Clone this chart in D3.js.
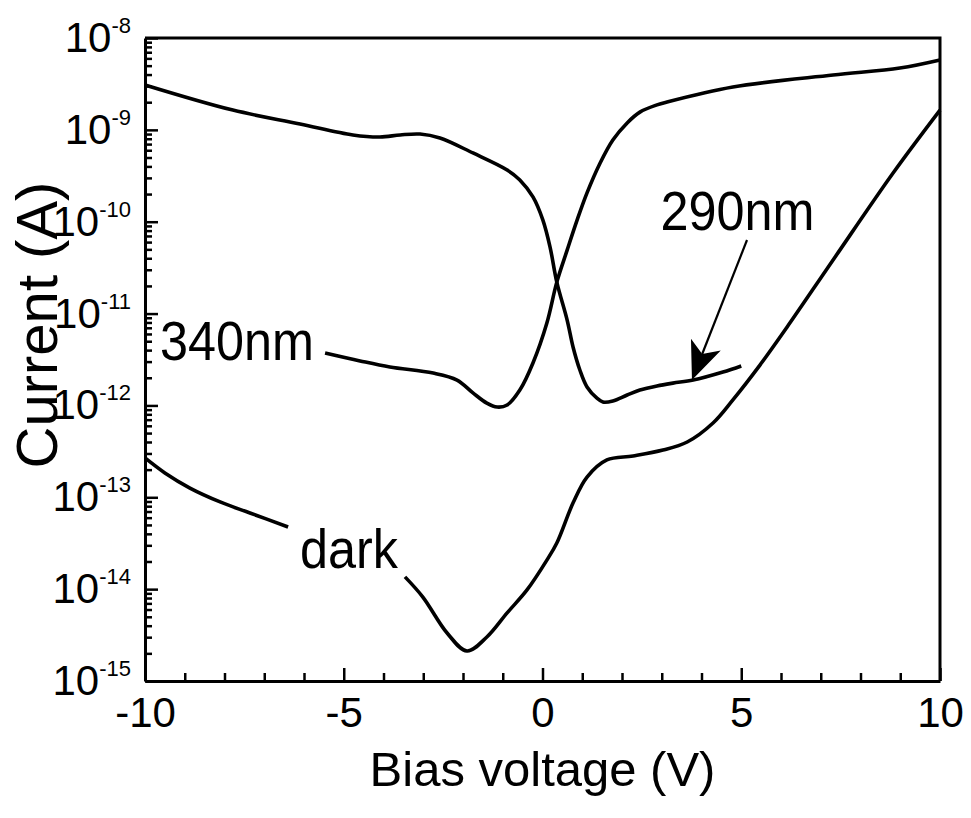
<!DOCTYPE html>
<html>
<head>
<meta charset="utf-8">
<script src="https://cdn.jsdelivr.net/npm/d3@7"></script>
<style>
  body { margin: 0; background: #fff; }
  svg { display: block; font-family: "Liberation Sans", Arial, sans-serif; }
</style>
</head>
<body>
<div id="chart"></div>
<script>
// I-V curves: dark current and photocurrent under 290nm / 340nm light
// values (volts, amps)

const voltage290 = [-10, -7.79, -6.10, -4.77, -4.09, -3.58, -3.08, -2.58,
  -1.75, -0.89, -0.57, -0.24, 0.01, 0.19, 0.36, 0.62, 0.77, 0.94, 1.12, 1.37, 1.52, 1.77,
  2.13, 2.45, 2.88, 3.28, 3.79, 4.54, 5.0];
const current290 = [3.08e-9, 1.64e-9, 1.16e-9, 8.8e-10, 8.35e-10,
  8.8e-10, 9.0e-10, 8.15e-10, 5.6e-10, 3.66e-10, 2.85e-10, 1.86e-10, 1.04e-10, 5.3e-11,
  2.2e-11, 8.5e-12, 4.3e-12, 2.43e-12, 1.59e-12, 1.2e-12, 1.09e-12, 1.12e-12, 1.3e-12,
  1.47e-12, 1.63e-12, 1.75e-12, 1.89e-12, 2.31e-12, 2.69e-12];

const voltage340 = [-5.47, -4.59, -3.84, -2.75, -2.15, -1.75, -1.40, -1.14, -0.89, -0.57,
  -0.24, 0.11, 0.36, 0.62, 0.87, 1.12, 1.45, 1.77, 2.13, 2.45, 2.88, 3.13, 4.79, 7.31, 8.99, 10];
const current340 = [3.72e-12, 3.05e-12, 2.62e-12, 2.25e-12, 1.89e-12, 1.37e-12, 1.06e-12,
  9.6e-13, 1.01e-12, 1.47e-12, 2.9e-12, 7.9e-12, 2.2e-11, 4.9e-11, 1.04e-10, 2.06e-10,
  4.36e-10, 7.76e-10, 1.19e-9, 1.56e-9, 1.87e-9, 2.01e-9, 2.93e-9, 3.95e-9, 4.71e-9, 5.77e-9];

// null marks the break in the dark curve where its label sits
const voltageDark = [-10, -9.50, -8.87, -8.11, -7.36, -6.40, null, -3.46, -3.01, -2.40, -1.90,
  -1.40, -0.89, -0.39, 0.11, 0.36, 0.77, 1.12, 1.62, 2.28, 3.03, 3.64, 4.29, 4.79, 5.47,
  6.15, 7.31, 8.82, 10];
const currentDark = [2.68e-13, 1.84e-13, 1.26e-13, 8.9e-14, 6.75e-14, 4.75e-14, null, 1.36e-14,
  8.2e-15, 3.33e-15, 2.12e-15, 3.01e-15, 5.51e-15, 9.8e-15, 2.07e-14, 3.18e-14, 8.7e-14,
  1.66e-13, 2.55e-13, 2.82e-13, 3.27e-13, 4.0e-13, 6.44e-13, 1.15e-12, 2.75e-12, 7.1e-12,
  3.83e-11, 3.39e-10, 1.64e-9];

// curve labels and the 290nm arrow (data units)
const labelText = ["340nm", "290nm", "dark"];
const labelV    = [-9.62, 2.97, -6.10];
const labelI    = [3.13e-12, 8.13e-11, 1.70e-14];
const arrowFrom = [5.145, 6.32e-11];
const arrowTo   = [3.76, 1.89e-12];

const xTicks = [-10, -5, 0, 5, 10];
const yDecades = [1e-15, 1e-14, 1e-13, 1e-12, 1e-11, 1e-10, 1e-9, 1e-8];

const width = 971, height = 818;
const margin = { top: 38, right: 31, bottom: 137, left: 145 };
const FONT = '"Liberation Sans", Arial, sans-serif';

const svg = d3.select("#chart").append("svg")
  .attr("width", width)
  .attr("height", height);

const x = d3.scaleLinear().domain([-10, 10]).range([margin.left, width - margin.right]);
const y = d3.scaleLog().domain([1e-15, 1e-8]).range([height - margin.bottom, margin.top]);

// minor ticks: 1 V steps, 2..9 within each decade
const xMinor = d3.range(-10, 11, 1).filter(d => d % 5 !== 0);
const yMinor = [];
yDecades.slice(0, -1).forEach(dec => {
  for (let k = 2; k <= 9; k++) yMinor.push(dec * k);
});

function styleAxis(g, fontSize) {
  g.attr("font-family", FONT).attr("font-size", fontSize);
  g.select(".domain").attr("stroke-width", 3);
  g.selectAll(".tick line").attr("stroke-width", 2.5);
  g.selectAll(".tick text").attr("fill", "#000");
}

// X axis
svg.append("g")
  .attr("transform", `translate(0,${height - margin.bottom})`)
  .call(d3.axisBottom(x).tickValues(xMinor).tickSize(-8).tickSizeOuter(0).tickFormat(""))
  .call(g => { styleAxis(g, 42); g.select(".domain").remove(); });

svg.append("g")
  .attr("transform", `translate(0,${height - margin.bottom})`)
  .call(d3.axisBottom(x).tickValues(xTicks).tickSize(-13).tickSizeOuter(0)
    .tickPadding(16).tickFormat(d => String(d)))
  .call(g => styleAxis(g, 42));

// Y axis
svg.append("g")
  .attr("transform", `translate(${margin.left},0)`)
  .call(d3.axisLeft(y).tickValues(yMinor).tickSize(-7).tickSizeOuter(0).tickFormat(""))
  .call(g => { styleAxis(g, 42); g.select(".domain").remove(); });

svg.append("g")
  .attr("transform", `translate(${margin.left},0)`)
  .call(d3.axisLeft(y).tickValues(yDecades).tickSize(-13).tickSizeOuter(0)
    .tickPadding(14).tickFormat(""))
  .call(g => styleAxis(g, 42))
  .call(g => g.selectAll(".tick text").each(function(d) {
    const t = d3.select(this);
    t.append("tspan").text("10");
    t.append("tspan").attr("dy", -19).attr("font-size", 22)
      .text(String(Math.round(Math.log10(d))));
  }));

// top and right frame
svg.append("path")
  .attr("d", `M${x(-10)},${y(1e-8)}H${x(10)}V${y(1e-15)}`)
  .attr("fill", "none")
  .attr("stroke", "#000")
  .attr("stroke-width", 3);

// curves
const line = d3.line()
  .defined(d => d[0] !== null)
  .x(d => x(d[0]))
  .y(d => y(d[1]))
  .curve(d3.curveCatmullRom.alpha(0.5));

const series = [
  d3.zip(voltage290, current290),
  d3.zip(voltage340, current340),
  d3.zip(voltageDark, currentDark)
];

svg.selectAll(".curve")
  .data(series)
  .join("path")
  .attr("class", "curve")
  .attr("d", line)
  .attr("fill", "none")
  .attr("stroke", "#000")
  .attr("stroke-width", 3.6)
  .attr("stroke-linejoin", "round");

// curve labels, slightly condensed like the original lettering
labelText.forEach((txt, i) => {
  svg.append("text")
    .attr("transform", `translate(${x(labelV[i])},${y(labelI[i])}) scale(0.915,1)`)
    .attr("font-family", FONT)
    .attr("font-size", 55)
    .attr("fill", "#000")
    .text(txt);
});

// arrow to the 290nm curve
const ax0 = x(arrowFrom[0]), ay0 = y(arrowFrom[1]);
const ax1 = x(arrowTo[0]),   ay1 = y(arrowTo[1]);
const len = Math.hypot(ax0 - ax1, ay0 - ay1);
const ux = (ax0 - ax1) / len, uy = (ay0 - ay1) / len;   // tip -> tail
const px = -uy, py = ux;
const headLen = 38, headHalf = 16, notch = 28;

svg.append("line")
  .attr("x1", ax0).attr("y1", ay0)
  .attr("x2", ax1 + ux * notch).attr("y2", ay1 + uy * notch)
  .attr("stroke", "#000")
  .attr("stroke-width", 2.2);

svg.append("path")
  .attr("d", `M${ax1},${ay1}` +
    `L${ax1 + ux * headLen + px * headHalf},${ay1 + uy * headLen + py * headHalf}` +
    `L${ax1 + ux * notch},${ay1 + uy * notch}` +
    `L${ax1 + ux * headLen - px * headHalf},${ay1 + uy * headLen - py * headHalf}Z`)
  .attr("fill", "#000");

// axis titles
svg.append("text")
  .attr("x", (x(-10) + x(10)) / 2)
  .attr("y", 786)
  .attr("text-anchor", "middle")
  .attr("font-family", FONT)
  .attr("font-size", 49)
  .text("Bias voltage (V)");

svg.append("text")
  .attr("transform", `translate(57,325) rotate(-90)`)
  .attr("text-anchor", "middle")
  .attr("font-family", FONT)
  .attr("font-size", 58)
  .text("Current (A)");
</script>
</body>
</html>
